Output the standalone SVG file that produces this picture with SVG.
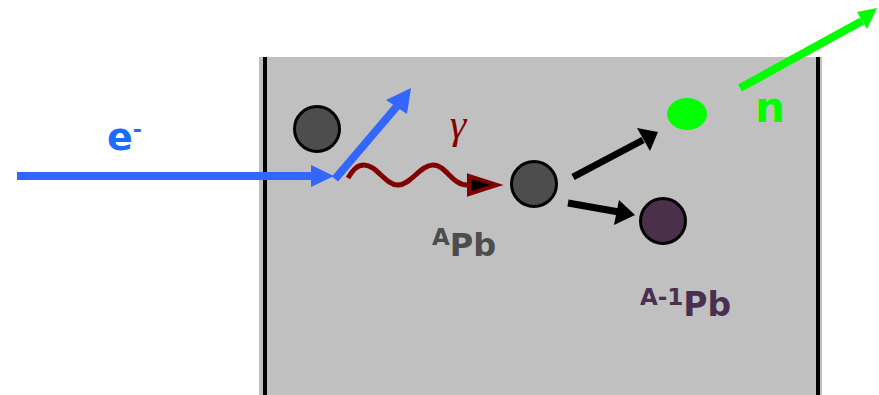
<svg xmlns="http://www.w3.org/2000/svg" width="879" height="395" viewBox="0 0 879 395">
<style>
.lbl{font-family:"DejaVu Sans",Verdana,sans-serif;font-weight:bold}
.atom{stroke:#000;stroke-width:3}
.wall{stroke:#000;stroke-width:4}
</style>
<rect x="0" y="0" width="879" height="395" fill="#fff"/>
<g id="target">
<rect x="259" y="57" width="563" height="338" fill="#c0c0c0"/>
<line class="wall" x1="265" y1="57" x2="265" y2="395"/>
<line class="wall" x1="818" y1="57" x2="818" y2="395"/>
</g>
<g id="connectors">
<g id="electron-in">
<line x1="17" y1="176" x2="314" y2="176" stroke="#3366ff" stroke-width="8"/>
<polygon points="311,165 334,176 311,187" fill="#3366ff"/>
</g>
<g id="electron-out">
<line x1="335" y1="179" x2="398" y2="105" stroke="#3366ff" stroke-width="8"/>
<polygon points="386,100 411,88 407,114" fill="#3366ff"/>
</g>
<g id="photon">
<path d="M348,178 C353,170 357,165 364,165 C377,165 385,185 398,185 C411,185 420,165 433,165 C446,165 452,185 467,185" fill="none" stroke="#800000" stroke-width="5"/>
<polygon points="469,176 469,194 497,185" fill="#000" stroke="#800000" stroke-width="4" stroke-linejoin="miter"/>
</g>
<g id="to-neutron">
<line x1="573" y1="177" x2="643" y2="140" stroke="#000" stroke-width="7"/>
<polygon points="637,128 658,132 650,151" fill="#000"/>
</g>
<g id="to-pb">
<line x1="568" y1="203" x2="619" y2="212" stroke="#000" stroke-width="7"/>
<polygon points="619,200 635,215 614,225" fill="#000"/>
</g>
<g id="neutron-out">
<line x1="740" y1="88" x2="862" y2="21" stroke="#00ff00" stroke-width="8"/>
<polygon points="857,12 877,8 867,29" fill="#00ff00"/>
</g>
</g>
<g id="atom-1"><circle class="atom" cx="317" cy="129" r="22.5" fill="#4d4d4d"/></g>
<g id="atom-pb"><circle class="atom" cx="534" cy="184" r="22.5" fill="#4d4d4d"/></g>
<g id="neutron"><ellipse cx="687" cy="114" rx="20" ry="16" fill="#00ff00"/></g>
<g id="atom-pb-a1"><circle class="atom" cx="663" cy="221" r="22.5" fill="#4a3049"/></g>
<g id="labels">
<text class="lbl" x="107" y="150" font-size="38" fill="#1a6cff">e<tspan font-size="22" dy="-13">-</tspan></text>
<text x="458" y="138" font-family="'Liberation Serif',serif" font-style="italic" font-size="42" fill="#880000" text-anchor="middle">γ</text>
<text class="lbl" x="432" y="256" font-size="32" fill="#4d4d4d"><tspan font-size="23" dy="-11">A</tspan><tspan dy="11">Pb</tspan></text>
<text class="lbl" x="640" y="316" font-size="33" fill="#4a3050"><tspan font-size="23" dy="-11">A-1</tspan><tspan dy="11">Pb</tspan></text>
<text class="lbl" x="755" y="122" font-size="42" fill="#00ff00">n</text>
</g>
</svg>
